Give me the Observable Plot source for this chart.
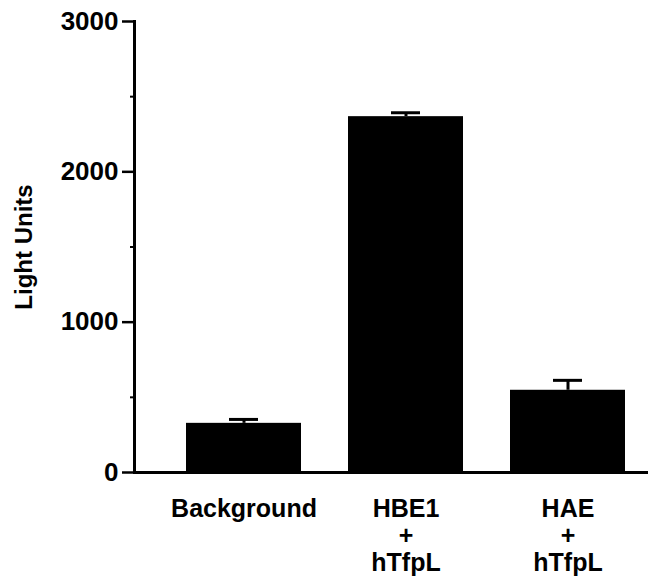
<!DOCTYPE html>
<html>
<head>
<meta charset="utf-8">
<script src="https://cdn.jsdelivr.net/npm/d3@7"></script>
<script src="https://cdn.jsdelivr.net/npm/@observablehq/plot@0.6"></script>
<style>
  html, body { margin: 0; padding: 0; background: #fff; }
</style>
</head>
<body>
<div id="chart"></div>
<script>
const categories = ["Background", "HBE1\n+\nhTfpL", "HAE\n+\nhTfpL"];
const values = [327, 2367, 547];
const errors = [26, 26, 66];
const majorTicks = [0, 1000, 2000, 3000];
const minorTicks = [500, 1500, 2500];
const yLabel = "Light Units";

const data = categories.map((c, i) => ({cat: c, value: values[i], top: values[i] + errors[i]}));

const chart = Plot.plot({
  width: 648,
  height: 578,
  marginLeft: 134,
  marginRight: 0,
  marginTop: 21,
  marginBottom: 106,
  style: {fontFamily: "'Liberation Sans', Arial, sans-serif", fontSize: "26px", fontWeight: "bold", color: "#000", background: "#fff"},
  x: {domain: categories, paddingInner: 0.288, paddingOuter: 0.221, align: 0.694},
  y: {domain: [0, 3000]},
  marks: [
    Plot.barY(data, {x: "cat", y: "value", fill: "#000"}),
    Plot.ruleX(data, {x: "cat", y1: "value", y2: "top", stroke: "#000", strokeWidth: 3}),
    Plot.tickY(data, {x: "cat", y: "top", stroke: "#000", strokeWidth: 3, insetLeft: 43, insetRight: 43}),
    Plot.ruleY([0], {stroke: "#000", strokeWidth: 3}),
    Plot.frame({anchor: "left", stroke: "#000", strokeWidth: 3}),
    Plot.axisY({ticks: majorTicks, tickSize: 12, tickPadding: 4, tickFormat: d => String(d), strokeWidth: 2.5, label: null, fontSize: 26}),
    Plot.axisY({ticks: minorTicks, tickSize: 4, tickFormat: () => "", strokeWidth: 2, label: null}),
    Plot.text([yLabel], {frameAnchor: "left", rotate: -90, dx: -110, fontSize: 24, fontWeight: "bold", lineAnchor: "middle", textAnchor: "middle"}),
    Plot.axisX({tickSize: 0, tickPadding: 25, label: null, lineHeight: 1.08, fontSize: 25})
  ]
});
document.getElementById("chart").appendChild(chart);
</script>
</body>
</html>
